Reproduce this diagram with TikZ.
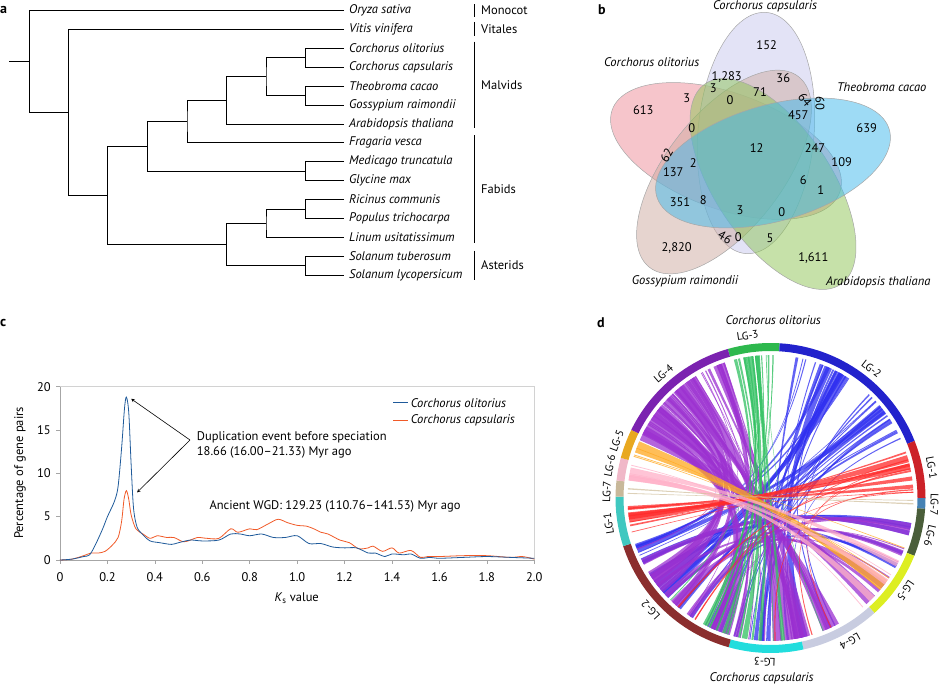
\documentclass[tikz,border=0pt]{standalone}
\usepackage{fontspec}
\setmainfont{PT Sans}
\usetikzlibrary{calc}
\definecolor{VRed}{HTML}{EE8C98}
\definecolor{VPurple}{HTML}{C8C8EE}
\definecolor{VBlue}{HTML}{3EB8EC}
\definecolor{VGreen}{HTML}{8DC454}
\definecolor{VBrown}{HTML}{CDAAA0}
\definecolor{KsBlue}{HTML}{1F5A9A}
\definecolor{KsOrange}{HTML}{F05A28}
\definecolor{RGreen}{HTML}{2DB84D}
\definecolor{RBlue}{HTML}{2222CC}
\definecolor{RRed}{HTML}{CC2228}
\definecolor{RSteel}{HTML}{4682B4}
\definecolor{ROlive}{HTML}{4A5E3A}
\definecolor{RYellow}{HTML}{DDEE22}
\definecolor{RLav}{HTML}{C8CCE0}
\definecolor{RCyan}{HTML}{22DDDD}
\definecolor{RBrown}{HTML}{8B2E2E}
\definecolor{RTeal}{HTML}{40C8C0}
\definecolor{RTan}{HTML}{C8B89A}
\definecolor{RPink}{HTML}{F0B8C8}
\definecolor{ROrange}{HTML}{E8A820}
\definecolor{RPurple}{HTML}{7B22B0}
\definecolor{LPurple}{HTML}{9B30D0}
\definecolor{LBlue}{HTML}{2F2FF0}
\definecolor{LGreen}{HTML}{30C060}
\definecolor{LRed}{HTML}{FF2A2A}
\definecolor{LOrange}{HTML}{FFA820}
\definecolor{LPink}{HTML}{FFB0C8}
\definecolor{LTan}{HTML}{D2C2A0}
\tikzset{
  every picture/.style={font=\fontsize{12.5}{15}\selectfont, >=stealth},
  panel/.style={font=\fontsize{14}{16}\selectfont\bfseries, anchor=west, inner sep=0pt},
  branch/.style={line width=0.8pt},
  taxon/.style={anchor=west, inner sep=0pt, xshift=5pt, font=\fontsize{12.5}{15}\selectfont\itshape},
  clade/.style={anchor=west, inner sep=0pt},
  venn/.style={draw=gray!70, line width=0.5pt, fill opacity=0.5},
  vnum/.style={inner sep=0pt, font=\fontsize{12.5}{14}\selectfont},
  species/.style={inner sep=0pt, font=\fontsize{12.5}{15}\selectfont\itshape},
  frameline/.style={gray!70, line width=0.6pt},
  ticklab/.style={inner sep=0pt, font=\fontsize{12.5}{14}\selectfont},
  chord/.style={fill opacity=0.75},
  lglab/.style={inner sep=0pt, font=\fontsize{11}{13}\selectfont}
}
\newcommand{\ribbon}[5]{%
  \fill[#5, chord] (#1:143) arc[start angle=#1, end angle=#1+#2, radius=143]
    .. controls (#1+#2:35) and (#3:35) .. (#3:143)
    arc[start angle=#3, end angle=#3+#4, radius=143]
    .. controls (#3+#4:35) and (#1:35) .. cycle;}
\newcommand{\chordset}[7]{%
  \foreach \k in {1,...,#1} {
    \pgfmathsetmacro{\ca}{#2+(#3-#2)*rnd}
    \pgfmathsetmacro{\cb}{#4+(#5-#4)*rnd}
    \pgfmathsetmacro{\cw}{0.3+#6*rnd^2}
    \ribbon{\ca}{\cw}{\cb}{\cw}{#7}
  }}
\begin{document}
\begin{tikzpicture}[x=1pt, y=-1pt]
\useasboundingbox (0,0) rectangle (946,685);

% a: species tree
\node[panel] (la) at (0,10) {a};
\foreach \name/\txt [count=\i from 0] in {ory/Oryza sativa, vit/Vitis vinifera,
    olit/Corchorus olitorius, caps/Corchorus capsularis, theo/Theobroma cacao,
    goss/Gossypium raimondii, arab/Arabidopsis thaliana, frag/Fragaria vesca,
    med/Medicago truncatula, gly/Glycine max, ric/Ricinus communis,
    pop/Populus trichocarpa, lin/Linum usitatissimum, stu/Solanum tuberosum,
    sly/Solanum lycopersicum} {
  \coordinate (\name) at (344,10.7+18.88*\i);
  \node[taxon] (t-\name) at (\name) {\txt};
}
\coordinate (n8) at (305.3,57.9);
\coordinate (n9) at (305.3,95.66);
\coordinate (n7) at (266,76.78);
\coordinate (n6) at (226.7,100.38);
\coordinate (n5) at (187,121.62);
\coordinate (nmg) at (305.3,171.18);
\coordinate (n4) at (147.3,146.4);
\coordinate (nrp) at (305.3,208.94);
\coordinate (nrpl) at (266,223.1);
\coordinate (nsol) at (305.3,265.58);
\coordinate (nast) at (226.7,244.34);
\coordinate (n3) at (107.7,195.37);
\coordinate (n2) at (68.7,112.48);
\coordinate (root) at (29.3,61.59);
\coordinate (base) at (9,61.59);
\foreach \a/\p/\b in {olit/n8/caps, theo/n9/goss, n8/n7/n9, n7/n6/arab, n6/n5/frag,
    med/nmg/gly, n5/n4/nmg, ric/nrp/pop, nrp/nrpl/lin, stu/nsol/sly,
    nrpl/nast/nsol, n4/n3/nast, vit/n2/n3, ory/root/n2}
  \draw[branch] (\a) -| (\p) |- (\b);
\draw[branch] (base) -- (root);
\foreach \ya/\yb/\txt [count=\i] in {4.3/16.7/Monocot, 22/36/Vitales,
    41.7/128.3/Malvids, 135/242.7/Fabids, 250.7/280/Asterids} {
  \draw[line width=0.8pt] (474,\ya) -- (474,\yb);
  \node[clade] (g\i) at (481,{(\ya+\yb)/2}) {\txt};
}

% b: five-way venn
\node[panel] (lb) at (598,10) {b};
\foreach \cx/\cy/\ang/\col in {726/151/160/VRed, 756/133/85/VPurple,
    724/172/52/VBrown, 773/184/124/VGreen, 773/163/16/VBlue}
  \filldraw[venn, fill=\col, rotate around={\ang:(\cx,\cy)}]
    (\cx,\cy) ellipse[x radius=121, y radius=58];
\foreach \x/\y/\t/\r [count=\i] in {766.7/45/152/0, 726.7/76.7/{1,283}/0,
    783.3/78.3/36/0, 643.3/110/613/0, 686.7/98.3/3/0, 713.3/88.3/3/0,
    730/100/0/0, 760/91.7/71/0, 805/100/64/-50, 820/103.3/60/-90,
    798.3/115/457/0, 866.7/128.3/639/0, 691.7/128.3/0/0, 756.7/148.3/12/0,
    815/148.3/247/0, 841.7/161.7/109/0, 666.7/155/62/60, 693.3/162.7/2/0,
    673.3/171.7/137/0, 803.3/180/6/0, 820.7/190/1/0, 680/201.7/351/0,
    703.3/200/8/0, 740/210/3/0, 781.7/211.7/0/0, 725/237.3/46/-30,
    738.3/236.7/0/0, 770/238.3/5/0, 676.7/248.3/{2,820}/0, 813.3/258.3/{1,611}/0}
  \node[vnum, rotate=\r] (v\i) at (\x,\y) {\t};
\node[species] (sp-caps) at (765,6.7) {Corchorus capsularis};
\node[species] (sp-olit) at (651.7,61.7) {Corchorus olitorius};
\node[species] (sp-theo) at (881.7,87.3) {Theobroma cacao};
\node[species] (sp-goss) at (685,281.7) {Gossypium raimondii};
\node[species] (sp-arab) at (878.3,282.7) {Arabidopsis thaliana};

% c: Ks distribution
\node[panel] (lc) at (0,323) {c};
\begin{scope}[shift={(60,560)}, x=237.15pt, y=8.667pt]
  \draw[gray!35, line width=0.5pt] (0,20) -- (2,20) -- (2,0);
  \draw[frameline] (0,20) -- (0,0) -- (2,0);
  \foreach \k/\lab in {0/0, 0.2/0.2, 0.4/0.4, 0.6/0.6, 0.8/0.8, 1/1.0,
      1.2/1.2, 1.4/1.4, 1.6/1.6, 1.8/1.8, 2/2.0} {
    \draw[frameline] (\k,0) -- ++(0pt,-4pt);
    \node[ticklab] (kx\lab) at ([yshift=-17pt]\k,0) {\lab};
  }
  \foreach \v in {0,5,10,15,20} {
    \draw[frameline] (0,\v) -- ++(-4pt,0pt);
    \node[ticklab, anchor=east] (ky\v) at ([xshift=-9pt]0,\v) {\v};
  }
  \draw[KsOrange, line width=0.8pt] plot[smooth] coordinates {(0,0) (0.05,0.1)
    (0.1,0.5) (0.13,0.8) (0.16,0.8) (0.19,1.0) (0.22,1.7) (0.245,2.6) (0.26,4.5)
    (0.27,7.0) (0.28,8.0) (0.29,7.0) (0.3,5.2) (0.32,3.6) (0.35,3.0) (0.38,2.5)
    (0.41,2.8) (0.45,2.6) (0.48,2.6) (0.52,2.1) (0.55,2.3) (0.58,2.6) (0.62,2.5)
    (0.67,2.5) (0.72,3.6) (0.75,3.2) (0.8,3.6) (0.83,3.5) (0.88,4.2) (0.92,4.7)
    (0.96,4.3) (1.0,4.0) (1.04,3.9) (1.07,3.6) (1.1,3.2) (1.13,3.0) (1.18,2.3)
    (1.22,2.0) (1.26,1.3) (1.3,1.4) (1.32,1.6) (1.36,1.0) (1.4,1.4) (1.43,0.8)
    (1.48,1.1) (1.52,0.3) (1.55,0.4) (1.6,0.4) (1.7,0.5) (1.8,0.5) (1.9,0.3)
    (1.95,0.4) (2.0,0.1)};
  \draw[KsBlue, line width=0.8pt] plot[smooth] coordinates {(0,0) (0.05,0.1)
    (0.1,0.4) (0.125,0.6) (0.15,1.8) (0.18,3.6) (0.2,5) (0.23,6.8) (0.245,8.5)
    (0.26,13) (0.272,17.5) (0.28,18.8) (0.29,17) (0.3,11) (0.31,6) (0.325,3.8)
    (0.35,2.9) (0.38,2.2) (0.42,2.0) (0.47,1.8) (0.5,2.0) (0.55,2.3) (0.6,2.2)
    (0.67,2.3) (0.72,3.0) (0.76,3.0) (0.8,2.8) (0.85,3.0) (0.9,2.6) (0.95,2.6)
    (1.0,2.8) (1.05,1.9) (1.1,1.9) (1.15,1.5) (1.2,1.4) (1.25,1.4) (1.3,0.8)
    (1.33,0.8) (1.37,0.4) (1.4,0.7) (1.45,0.6) (1.48,0.7) (1.52,0.2) (1.56,0.3)
    (1.6,0.2) (1.7,0.3) (1.8,0.4) (1.9,0.3) (2.0,0.2)};
  \coordinate (bpeak) at (0.3,18.6);
  \coordinate (opeak) at (0.325,7.8);
\end{scope}
\node[rotate=90, inner sep=0pt] (ylab) at (20,473) {Percentage of gene pairs};
\node[inner sep=0pt] (xlab) at (296.7,598.3) {\textit{K}\textsubscript{s} value};
\draw[KsBlue, line width=0.8pt] (393.3,402.7) coordinate (lb1) -- (408.3,402.7) coordinate (lb2);
\draw[KsOrange, line width=0.8pt] (393.3,420.7) coordinate (lo1) -- (408.3,420.7) coordinate (lo2);
\node[species, anchor=west] (leg-olit) at (410.7,402.7) {Corchorus olitorius};
\node[species, anchor=west] (leg-caps) at (410.7,420.7) {Corchorus capsularis};
\node[clade, align=left] (dup) at (196.7,444.5) {Duplication event before speciation\\18.66 (16.00--21.33) Myr ago};
\coordinate (fork) at (190,440);
\draw[->, line width=0.6pt] (fork) -- (bpeak);
\draw[->, line width=0.6pt] (fork) -- (opeak);
\node[clade] (wgd) at (209.3,506.7) {Ancient WGD: 129.23 (110.76--141.53) Myr ago};

% d: syntenic blocks
\node[panel] (ld) at (597,323) {d};
\node[species] (circ-olit) at (773.3,320.5) {Corchorus olitorius};
\node[species] (circ-caps) at (761.7,678.3) {Corchorus capsularis};
\begin{scope}[shift={(770.5,498)}, y=1pt]
  \pgfmathsetseed{11}
  \chordset{36}{24}{84}{195}{300}{3.5}{LBlue}
  \chordset{6}{205}{240}{-40}{-8}{2.5}{LBlue}
  \chordset{40}{108}{152}{200}{315}{5}{LPurple}
  \chordset{8}{205}{250}{-45}{-5}{3.5}{LPurple}
  \chordset{16}{88}{104}{225}{300}{2}{LGreen}
  \chordset{8}{2}{19}{183}{197}{4.5}{LRed}
  \chordset{6}{2}{19}{220}{300}{0.5}{LRed}
  \chordset{4}{155}{163}{-40}{-20}{4.5}{LOrange}
  \chordset{5}{166}{172}{-50}{-28}{3}{LPink}
  \chordset{2}{174}{178}{-3}{-1}{1.5}{LTan}
  \foreach \a/\b/\col in {86.6/106/RGreen, 21.6/86.6/RBlue, 0/21.6/RRed,
      -4/0/RSteel, -21.9/-4/ROlive, -47.9/-21.9/RYellow, -77.7/-47.9/RLav,
      -105.7/-77.7/RCyan, 198.1/254.3/RBrown, 179.5/198.1/RTeal,
      173.5/179.5/RTan, 165/173.5/RPink, 153.9/165/ROrange, 106/153.9/RPurple}
    \fill[\col] (\a:147) arc[start angle=\a, end angle=\b, radius=147]
      -- (\b:155) arc[start angle=\b, end angle=\a, radius=155] -- cycle;
  \foreach \ang/\txt [count=\i] in {98/LG-3, 52/LG-2, 10.6/LG-1, -2.4/LG-7,
      -13.4/LG-6, -34.5/LG-5, -61/LG-4, -92/LG-3, 223/LG-2, 189/LG-1,
      177.8/LG-7, 168.7/LG-6, 159.5/LG-5, 130.7/LG-4}
    \node[lglab, rotate=\ang-90] (lg\i) at (\ang:164) {\txt};
\end{scope}
\end{tikzpicture}
\end{document}
